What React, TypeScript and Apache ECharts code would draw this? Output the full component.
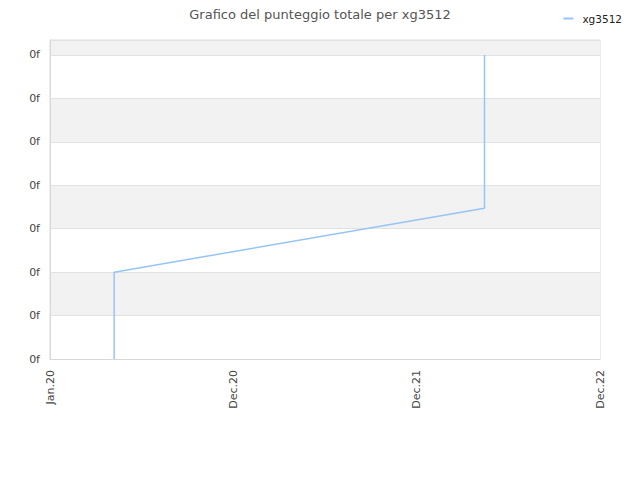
import React, { useEffect, useRef } from 'react';
import * as echarts from 'echarts';

const seriesName = 'xg3512';
const xTickLabels = ['Jan.20', 'Dec.20', 'Dec.21', 'Dec.22'];
// x in decimal years, y in score units
const xValues = [2020.35, 2020.35, 2022.37, 2022.37];
const yValues = [0, 2, 3.47, 7];

const App: React.FC = () => {
    const chartRef = useRef<HTMLDivElement>(null);

    useEffect(() => {
        if (chartRef.current) {
            const chart = echarts.init(chartRef.current, undefined, { renderer: 'svg' });
            const font = '"DejaVu Sans", sans-serif';

            const option = {
                animation: false,
                textStyle: { fontFamily: font },
                title: {
                    text: 'Grafico del punteggio totale per ' + seriesName,
                    left: 'center',
                    top: 3,
                    textStyle: { fontSize: 13, fontWeight: 'normal', color: '#555', fontFamily: font },
                },
                legend: {
                    right: 13,
                    top: 8,
                    icon: 'rect',
                    itemWidth: 10,
                    itemHeight: 2,
                    itemGap: 5,
                    textStyle: { fontSize: 10.5, color: '#222', fontFamily: font, padding: [0, 0, 0, 4] },
                    data: [seriesName],
                },
                grid: {
                    left: 50,
                    right: 40,
                    top: 40,
                    bottom: 121,
                    show: true,
                    borderColor: '#dcdcdc',
                    borderWidth: 1,
                    backgroundColor: 'transparent',
                },
                xAxis: {
                    type: 'value',
                    min: 2020,
                    max: 2023,
                    interval: 1,
                    axisLine: { show: true, lineStyle: { color: '#d8d8d8' } },
                    axisTick: { show: false },
                    splitLine: { show: false },
                    axisLabel: {
                        rotate: 90,
                        fontSize: 11,
                        color: '#444',
                        margin: 11,
                        formatter: (v: number) => xTickLabels[Math.round(v - 2020)] ?? '',
                    },
                },
                yAxis: {
                    type: 'value',
                    min: 0,
                    max: 7.345,
                    interval: 1,
                    axisLine: { show: true, lineStyle: { color: '#d8d8d8' } },
                    axisTick: { show: false },
                    splitLine: { show: true, lineStyle: { color: '#e2e2e2' } },
                    splitArea: { show: true, areaStyle: { color: ['#ffffff', '#f2f2f2'] } },
                    axisLabel: {
                        fontSize: 11,
                        color: '#444',
                        margin: 10,
                        showMaxLabel: false,
                        formatter: () => '0f',
                    },
                },
                series: [
                    {
                        name: seriesName,
                        type: 'line',
                        symbol: 'none',
                        data: xValues.map((x, i) => [x, yValues[i]]),
                        lineStyle: { color: '#95c5f5', width: 1.5 },
                        itemStyle: { color: '#95c5f5' },
                    },
                ],
            };

            chart.setOption(option);

            return () => {
                chart.dispose();
            };
        }
    }, []);

    return <div ref={chartRef} style={{ width: '640px', height: '480px', margin: '-8px' }} />;
};

export default App;
